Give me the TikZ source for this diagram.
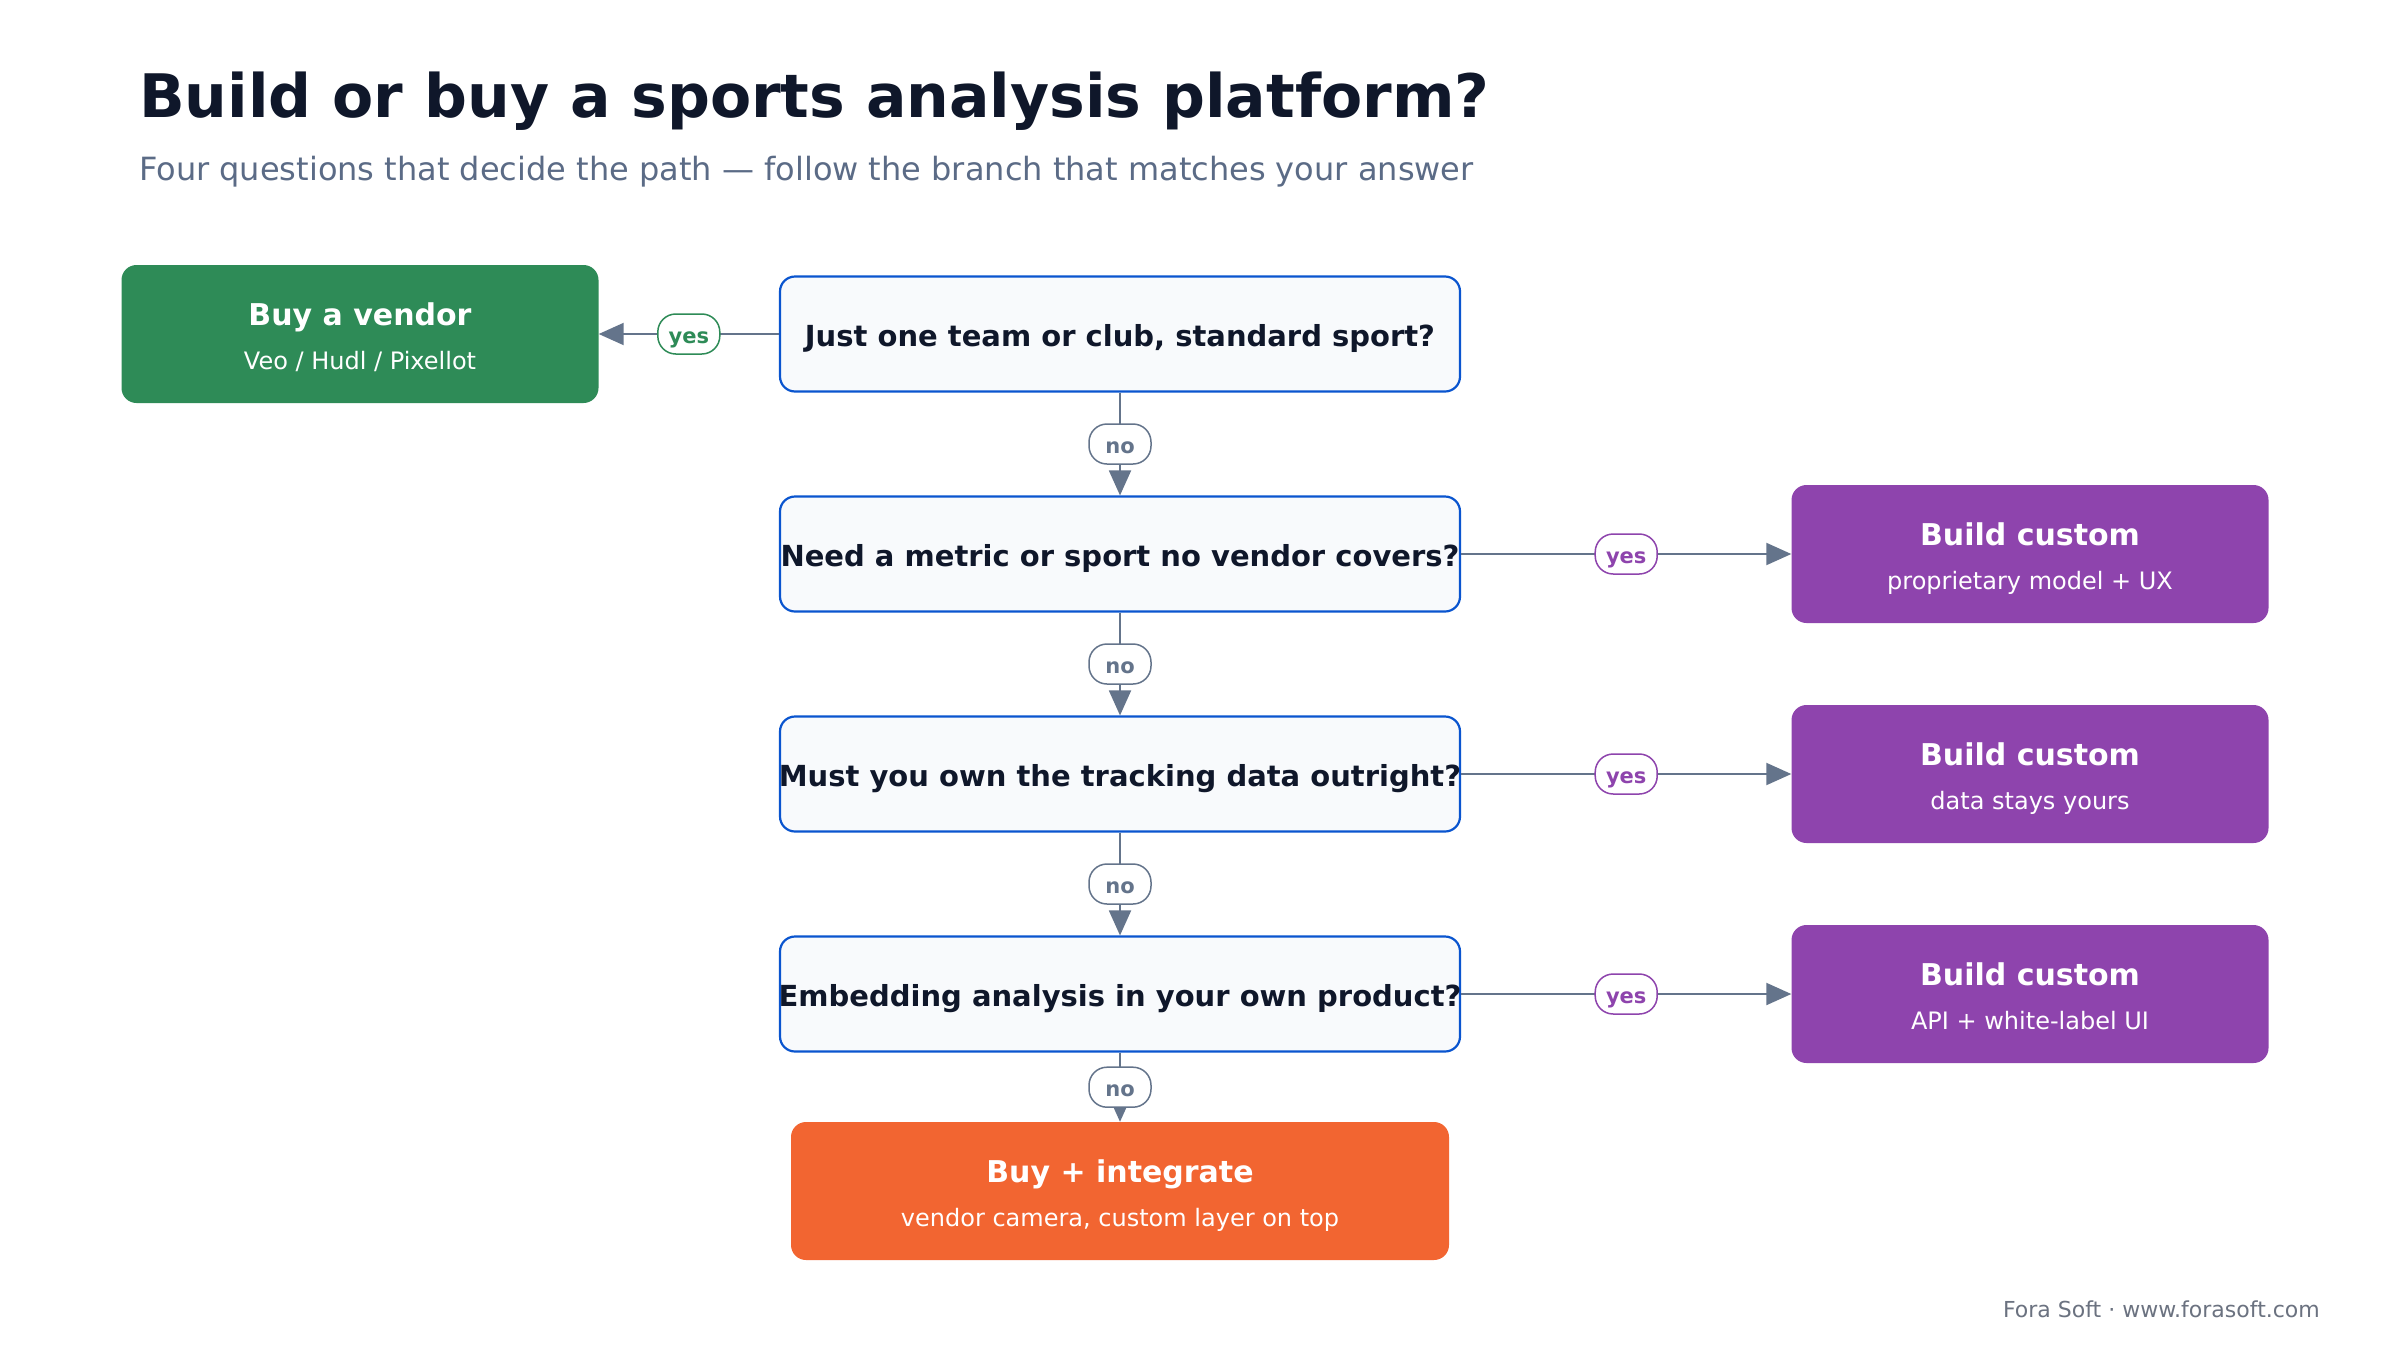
\documentclass[tikz,border=0pt]{standalone}
\usepackage{fontspec}
\setmainfont{DejaVu Sans}
\usetikzlibrary{arrows.meta}
\definecolor{ink}{HTML}{0F172A}
\definecolor{subink}{HTML}{5B6B86}
\definecolor{qfill}{HTML}{F8FAFC}
\definecolor{qborder}{HTML}{0A55CF}
\definecolor{vgreen}{HTML}{2E8B57}
\definecolor{bpurple}{HTML}{8E44AD}
\definecolor{borange}{HTML}{F26531}
\definecolor{conngray}{HTML}{64748B}
\definecolor{footgray}{HTML}{6B7280}
\begin{document}
\begin{tikzpicture}[x=1pt,y=-1pt,
 qbox/.style={draw=qborder, line width=2.2pt, fill=qfill, rounded corners=15pt, minimum width=680pt, minimum height=115pt, inner sep=0pt},
 obox/.style={fill=#1, rounded corners=15pt, minimum width=477pt, minimum height=138pt, inner sep=0pt},
 qtext/.style={font=\fontsize{29}{34}\selectfont\bfseries, text=ink, anchor=base, inner sep=0pt},
 otitle/.style={font=\fontsize{30}{36}\selectfont\bfseries, text=white, anchor=base, inner sep=0pt},
 osub/.style={font=\fontsize{24}{29}\selectfont, text=white, anchor=base, inner sep=0pt},
 link/.style={draw=conngray, line width=2pt, -{Triangle[length=25pt,width=22pt]}},
 pill/.style={draw=#1, line width=1.5pt, fill=white, rounded corners=18pt, minimum width=62pt, minimum height=40pt, inner sep=0pt, text=#1, text height=18pt, text depth=0pt, font=\fontsize{21}{25}\selectfont\bfseries},
]
\useasboundingbox (0,0) rectangle (2400,1360);
\fill[white] (0,0) rectangle (2400,1360);

% titles
\node[anchor=base west, inner sep=0pt, text=ink, font=\fontsize{60}{72}\selectfont\bfseries] (title) at (139,117) {Build or buy a sports analysis platform?};
\node[anchor=base west, inner sep=0pt, text=subink, font=\fontsize{32}{38}\selectfont] (subtitle) at (139,180) {Four questions that decide the path — follow the branch that matches your answer};

% question boxes
\node[qbox] (q1) at (1120,334) {};
\node[qbox] (q2) at (1120,554) {};
\node[qbox] (q3) at (1120,774) {};
\node[qbox] (q4) at (1120,994) {};
\node[qtext] (q1t) at (1120,346) {Just one team or club, standard sport?};
\node[qtext] (q2t) at (1120,566) {Need a metric or sport no vendor covers?};
\node[qtext] (q3t) at (1120,786) {Must you own the tracking data outright?};
\node[qtext] (q4t) at (1120,1006) {Embedding analysis in your own product?};

% outcome boxes
\node[obox=vgreen] (vend) at (360,334) {};
\node[otitle] (vendt) at (360,325) {Buy a vendor};
\node[osub] (vends) at (360,369) {Veo / Hudl / Pixellot};

\node[obox=bpurple] (b1) at (2030,554) {};
\node[otitle] (b1t) at (2030,545) {Build custom};
\node[osub] (b1s) at (2030,589) {proprietary model + UX};

\node[obox=bpurple] (b2) at (2030,774) {};
\node[otitle] (b2t) at (2030,765) {Build custom};
\node[osub] (b2s) at (2030,809) {data stays yours};

\node[obox=bpurple] (b3) at (2030,994) {};
\node[otitle] (b3t) at (2030,985) {Build custom};
\node[osub] (b3s) at (2030,1029) {API + white-label UI};

\node[obox=borange, minimum width=658pt] (integ) at (1120,1191) {};
\node[otitle] (integt) at (1120,1182) {Buy + integrate};
\node[osub] (integs) at (1120,1226) {vendor camera, custom layer on top};

% connectors
\draw[link] (q1.west) -- node[pill=vgreen] (l1) {yes} (vend.east);
\draw[link] (q1.south) -- node[pill=conngray] (l2) {no} (q2.north);
\draw[link] (q2.east) -- node[pill=bpurple] (l3) {yes} (b1.west);
\draw[link] (q2.south) -- node[pill=conngray] (l4) {no} (q3.north);
\draw[link] (q3.east) -- node[pill=bpurple] (l5) {yes} (b2.west);
\draw[link] (q3.south) -- node[pill=conngray] (l6) {no} (q4.north);
\draw[link] (q4.east) -- node[pill=bpurple] (l7) {yes} (b3.west);
\draw[link] (q4.south) -- node[pill=conngray] (l8) {no} (integ.north);

% footer
\node[anchor=base east, inner sep=0pt, text=footgray, font=\fontsize{22}{26}\selectfont] (foot) at (2320,1317) {Fora Soft · www.forasoft.com};
\end{tikzpicture}
\end{document}
